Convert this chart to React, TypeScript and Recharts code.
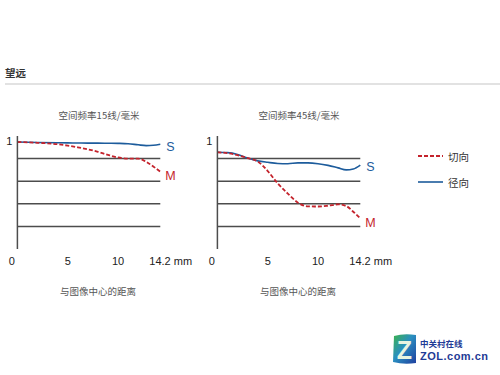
import React from 'react';
import { LineChart, Line, XAxis, YAxis, ReferenceLine } from 'recharts';

const header = '望远';
const xLabel = '与图像中心的距离';
const legendNames = ['切向', '径向'];

const title15 = '空间频率15线/毫米';
const x15 = [0, 2, 4, 5, 6, 7, 8, 9, 10, 11, 12, 12.8, 13.5, 14.2];
const s15 = [0.947, 0.943, 0.94, 0.939, 0.938, 0.937, 0.937, 0.936, 0.935, 0.932, 0.922, 0.915, 0.918, 0.927];
const m15 = [0.947, 0.94, 0.927, 0.915, 0.9, 0.882, 0.86, 0.833, 0.81, 0.8, 0.8, 0.772, 0.73, 0.685];

const title45 = '空间频率45线/毫米';
const x45 = [0, 1, 2, 3, 4, 5, 6, 7, 8, 9, 10, 11, 12, 12.8, 13.5, 14.2];
const s45 = [0.856, 0.853, 0.837, 0.805, 0.78, 0.767, 0.757, 0.755, 0.762, 0.762, 0.755, 0.74, 0.718, 0.7, 0.708, 0.743];
const m45 = [0.856, 0.848, 0.83, 0.805, 0.775, 0.69, 0.58, 0.49, 0.41, 0.377, 0.376, 0.383, 0.395, 0.38, 0.33, 0.272];

const xTicks = [0, 5, 10, 14.2];
const yTicks = [1];
const gridValues = [0.2, 0.4, 0.6, 0.8];

const BLUE = '#1d5c9c';
const RED = '#c4232c';
const GRID = '#4d4d4d';
const FONT = '"Liberation Sans", Arial, sans-serif';
const CJK = '"Noto Sans CJK SC", sans-serif';

const build = (xs: number[], s: number[], m: number[]) =>
  xs.map((x, i) => ({ x, S: s[i], M: m[i] }));

const XTick = (props: any) => {
  const { x, y, payload } = props;
  const v = payload.value;
  if (v === 14.2) {
    return (
      <text x={x - 11} y={y + 14} textAnchor="start" fontSize={11} fontFamily={FONT} fill="#222">
        14.2 mm
      </text>
    );
  }
  return (
    <text x={v === 0 ? x - 5.5 : x} y={y + 14} textAnchor="middle" fontSize={11} fontFamily={FONT} fill="#222">
      {v}
    </text>
  );
};

const YTick = (props: any) => {
  const { x, y, payload } = props;
  return (
    <text x={x - 3} y={y + 9} textAnchor="end" fontSize={11} fontFamily={FONT} fill="#222">
      {payload.value}
    </text>
  );
};

const endLabel = (name: string, color: string, n: number, dx: number, dy: number) => (props: any) => {
  const { x, y, index } = props;
  if (index !== n - 1) return null;
  return (
    <text x={x + dx} y={y + dy} fontSize={12.5} fontFamily={FONT} fill={color} dominantBaseline="central">
      {name}
    </text>
  );
};

const MtfChart = ({ xs, s, m, left, title, sdy, mdy }: any) => {
  const data = build(xs, s, m);
  return (
    <div style={{ position: 'absolute', left, top: 0, width: 200, height: 300 }}>
      <div
        style={{
          position: 'absolute',
          left: 0,
          width: 198,
          top: 109,
          textAlign: 'center',
          fontSize: 9.5,
          color: '#555',
          fontFamily: CJK,
          lineHeight: '13px',
        }}
      >
        {title}
      </div>
      <LineChart width={200} height={300} data={data} margin={{ top: 136, right: 39.7, bottom: 21, left: 7.4 }}>
        <XAxis
          dataKey="x"
          type="number"
          domain={[0, 14.2]}
          ticks={xTicks}
          axisLine={false}
          tickLine={false}
          tickSize={0}
          height={30}
          tick={<XTick />}
          interval={0}
        />
        <YAxis
          type="number"
          domain={[0, 1]}
          ticks={yTicks}
          width={10}
          tickLine={false}
          tickSize={0}
          axisLine={{ stroke: GRID, strokeWidth: 1.5 }}
          tick={<YTick />}
        />
        {gridValues.map((g) => (
          <ReferenceLine key={g} y={g} stroke={GRID} strokeWidth={1.5} />
        ))}
        <Line
          dataKey="S"
          type="monotone"
          stroke={BLUE}
          strokeWidth={1.6}
          dot={false}
          isAnimationActive={false}
          label={endLabel('S', BLUE, data.length, 6, sdy)}
        />
        <Line
          dataKey="M"
          type="monotone"
          stroke={RED}
          strokeWidth={1.8}
          strokeDasharray="4 2"
          dot={false}
          isAnimationActive={false}
          label={endLabel('M', RED, data.length, 5, mdy)}
        />
      </LineChart>
      <div
        style={{
          position: 'absolute',
          left: 0,
          width: 196,
          top: 285,
          textAlign: 'center',
          fontSize: 9.5,
          color: '#555',
          fontFamily: CJK,
          lineHeight: '13px',
        }}
      >
        {xLabel}
      </div>
    </div>
  );
};

export default function App() {
  return (
    <div
      style={{
        position: 'absolute',
        left: 0,
        top: 0,
        width: 500,
        height: 375,
        background: '#fff',
        overflow: 'hidden',
      }}
    >
      <div
        style={{
          position: 'absolute',
          left: 5,
          top: 66,
          fontSize: 10.5,
          fontWeight: 'bold',
          color: '#333',
          fontFamily: CJK,
          lineHeight: '14px',
        }}
      >
        {header}
      </div>
      <div style={{ position: 'absolute', left: 5, top: 83, width: 495, height: 2, background: '#e2e2e2' }} />

      <MtfChart xs={x15} s={s15} m={m15} left={0} title={title15} sdy={3} mdy={4.5} />
      <MtfChart xs={x45} s={s45} m={m45} left={200} title={title45} sdy={2} mdy={5} />

      <svg style={{ position: 'absolute', left: 410, top: 145 }} width={80} height={50}>
        <line x1={8} x2={33} y1={11} y2={11} stroke={RED} strokeWidth={1.8} strokeDasharray="4 2" />
        <text x={38} y={11} dominantBaseline="central" fontSize={10.5} fontFamily={CJK} fill="#333">
          {legendNames[0]}
        </text>
        <line x1={8} x2={33} y1={37} y2={37} stroke={BLUE} strokeWidth={1.6} />
        <text x={38} y={37} dominantBaseline="central" fontSize={10.5} fontFamily={CJK} fill="#333">
          {legendNames[1]}
        </text>
      </svg>

      <svg style={{ position: 'absolute', left: 390, top: 330 }} width={110} height={40}>
        <defs>
          <linearGradient id="zg" x1="0" y1="0" x2="1" y2="1">
            <stop offset="0" stopColor="#3cb44a" />
            <stop offset="0.45" stopColor="#2a8fc0" />
            <stop offset="1" stopColor="#1f3f9f" />
          </linearGradient>
        </defs>
        <path d="M4 6 Q14 3 26 5 L26 33 Q14 35 3 32 Z" fill="url(#zg)" />
        <text x={14.5} y={20} textAnchor="middle" dominantBaseline="central" fontSize={25} fontWeight="bold" fontFamily={FONT} fill="#e8f4e0">
          Z
        </text>
        <text x={30} y={13} dominantBaseline="central" fontSize={8.5} fontWeight="bold" fontFamily={CJK} fill="#1f3b96">
          中关村在线
        </text>
        <text x={30} y={25.5} dominantBaseline="central" fontSize={11} fontWeight="bold" fontFamily={FONT} fill="#1f3b96" textLength={68}>
          ZOL.com.cn
        </text>
      </svg>
    </div>
  );
}
